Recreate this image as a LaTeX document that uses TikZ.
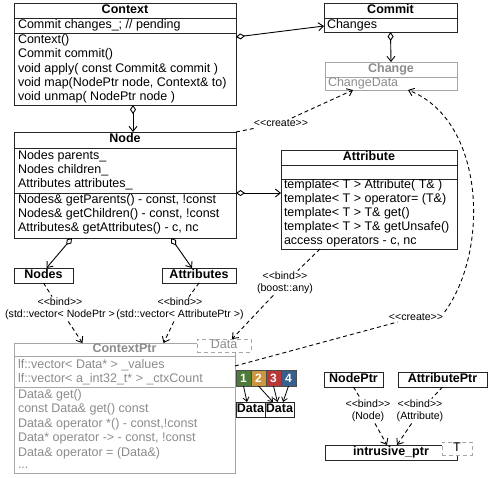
\documentclass[tikz,border=0pt]{standalone}
\usepackage{fontspec}
\setmainfont{Liberation Sans}[Ligatures=TeXOff]
\usetikzlibrary{arrows.meta}
\definecolor{tgreen}{RGB}{78,122,58}
\definecolor{torange}{RGB}{204,150,62}
\definecolor{tred}{RGB}{184,56,56}
\definecolor{tblue}{RGB}{56,96,142}
\begin{document}
\begin{tikzpicture}[x=1pt,y=-1pt,
  every node/.style={inner sep=0pt, outer sep=0pt},
  cls/.style 2 args={draw=black!85, line width=1pt, fill=white, anchor=north west,
    minimum width=#1, minimum height=#2},
  gcls/.style 2 args={cls={#1}{#2}, draw=black!35},
  tpl/.style 2 args={cls={#1}{#2}, draw=black!35, dash pattern=on 4pt off 3pt},
  mem/.style={anchor=mid west, font=\fontsize{12.5}{14}\selectfont},
  gmem/.style={mem, text=black!45},
  ttl/.style={anchor=mid, font=\fontsize{12.5}{14}\selectfont\bfseries},
  gttl/.style={ttl, text=black!45},
  lbl/.style={align=center, font=\fontsize{10.6}{12}\selectfont, inner sep=1.5pt},
  sepl/.style={draw=black!85, line width=1pt},
  gsep/.style={draw=black!35, line width=1pt},
  barb/.style={-{Straight Barb[length=5pt,width=8pt]}},
  agg/.style={line width=0.9pt, {Diamond[open,length=9pt,width=6pt]}-{Straight Barb[length=5pt,width=8pt]}},
  dep/.style={line width=0.9pt, dash pattern=on 4pt off 3pt},
  deparr/.style={dep, barb},
  sq/.style={draw=black!70, line width=0.6pt, anchor=north west, minimum width=15, minimum height=16,
    text=white, font=\fontsize{12}{14}\selectfont\bfseries},
  small/.style={line width=0.8pt, -{Straight Barb[length=4pt,width=6pt]}}
]
\useasboundingbox (0,0) rectangle (489,477);

% ---- Context
\node[cls={222}{102}] (context) at (14,3) {};
\draw[sepl] (14,18) -- (236,18);
\draw[sepl] (14,33) -- (236,33);
\node[ttl] (context-t) at (125,10.5) {Context};
\node[mem] (context-a1) at (18,25.5) {Commit changes\_; // pending};
\node[mem] (context-m1) at (18,41) {Context()};
\node[mem] (context-m2) at (18,55.2) {Commit commit()};
\node[mem] (context-m3) at (18,69.4) {void apply( const Commit\& commit )};
\node[mem] (context-m4) at (18,83.6) {void map(NodePtr node, Context\& to)};
\node[mem] (context-m5) at (18,97.8) {void unmap( NodePtr node )};

% ---- Commit
\node[cls={133}{29}] (commit) at (324,3) {};
\draw[sepl] (324,18) -- (457,18);
\node[ttl] (commit-t) at (390.5,10.5) {Commit};
\node[mem] (commit-a1) at (327,26) {Changes};

% ---- Change
\node[gcls={132}{28}] (change) at (325,62) {};
\draw[gsep] (325,77) -- (457,77);
\node[gttl] (change-t) at (391,69.5) {Change};
\node[gmem] (change-a1) at (328,84) {ChangeData};

% ---- Node
\node[cls={222}{106}] (node) at (14,132) {};
\draw[sepl] (14,148) -- (236,148);
\draw[sepl] (14,193) -- (236,193);
\node[ttl] (node-t) at (125,140) {Node};
\node[mem] (node-a1) at (18,157) {Nodes parents\_};
\node[mem] (node-a2) at (18,171) {Nodes children\_};
\node[mem] (node-a3) at (18,185) {Attributes attributes\_};
\node[mem] (node-m1) at (18,200.5) {Nodes\& getParents() - const, !const};
\node[mem] (node-m2) at (18,214.5) {Nodes\& getChildren() - const, !const};
\node[mem] (node-m3) at (18,228.5) {Attributes\& getAttributes() - c, nc};

% ---- Attribute
\node[cls={176}{99}] (attribute) at (281,150) {};
\draw[sepl] (281,165) -- (457,165);
\draw[sepl] (281,179) -- (457,179);
\node[ttl] (attribute-t) at (369,157.5) {Attribute};
\node[mem] (attribute-m1) at (284,186) {template< T > Attribute( T\& )};
\node[mem] (attribute-m2) at (284,200) {template< T > operator= (T\&)};
\node[mem] (attribute-m3) at (284,214) {template< T > T\& get()};
\node[mem] (attribute-m4) at (284,228) {template< T > T\& getUnsafe()};
\node[mem] (attribute-m5) at (284,242) {access operators - c, nc};

% ---- Nodes / Attributes
\node[cls={59}{15}] (nodes) at (14,268) {};
\node[ttl] (nodes-t) at (43.5,275.5) {Nodes};
\node[cls={74}{15}] (attributes) at (162,268) {};
\node[ttl] (attributes-t) at (199,275.5) {Attributes};

% ---- ContextPtr
\node[gcls={221}{130}] (ctxptr) at (14,343) {};
\draw[gsep] (14,356) -- (235,356);
\draw[gsep] (14,387) -- (235,387);
\node[gttl] (ctxptr-t) at (124.5,350) {ContextPtr};
\node[gmem] (ctxptr-a1) at (18,365.5) {lf::vector< Data* > \_values};
\node[gmem] (ctxptr-a2) at (18,379.5) {lf::vector< a\_int32\_t* > \_ctxCount};
\node[gmem] (ctxptr-m1) at (18,395.5) {Data\& get()};
\node[gmem] (ctxptr-m2) at (18,410) {const Data\& get() const};
\node[gmem] (ctxptr-m3) at (18,424.5) {Data\& operator *() - const,!const};
\node[gmem] (ctxptr-m4) at (18,439) {Data* operator -> - const, !const};
\node[gmem] (ctxptr-m5) at (18,453.5) {Data\& operator = (Data\&)};
\node[gmem] (ctxptr-m6) at (18,466) {...};
\node[tpl={54}{13}] (datatpl) at (197,339) {};
\node[gmem, anchor=mid] (datatpl-t) at (224,345.5) {Data};

% ---- tagged data slots
\node[sq, fill=tgreen] (sq1) at (236,370) {1};
\node[sq, fill=torange] (sq2) at (251,370) {2};
\node[sq, fill=tred] (sq3) at (266,370) {3};
\node[sq, fill=tblue] (sq4) at (281,370) {4};
\node[cls={29}{15}] (data1) at (236,402) {};
\node[ttl] (data1-t) at (250.5,409.5) {Data};
\node[cls={29}{15}] (data2) at (265,402) {};
\node[ttl] (data2-t) at (279.5,409.5) {Data};

% ---- smart pointers
\node[cls={59}{15}] (nodeptr) at (324,372) {};
\node[ttl] (nodeptr-t) at (353.5,379.5) {NodePtr};
\node[cls={89}{15}] (attrptr) at (398,372) {};
\node[ttl] (attrptr-t) at (442.5,379.5) {AttributePtr};
\node[cls={132}{15}] (intrusive) at (325,445) {};
\node[ttl] (intrusive-t) at (391,453) {intrusive\_ptr};
\node[tpl={30}{13}] (ttpl) at (442,442) {};
\node[mem, anchor=mid] (ttpl-t) at (457,448.5) {T};

% ---- aggregations
\draw[agg] ([yshift=17pt]context.east) -- ([yshift=-8.5pt]commit.west);
\draw[agg] ([xshift=8pt]context.south) -- ([xshift=8pt]node.north);
\draw[agg] (commit.south) -- (change.north);
\draw[agg] ([yshift=-8pt]node.east) -- ([yshift=6.5pt]attribute.west);
\draw[agg] ([xshift=-53pt]node.south) -- ([xshift=3pt]nodes.north);
\draw[agg] ([xshift=46pt]node.south) -- ([xshift=-7pt]attributes.north);

% ---- bindings
\node[lbl] (bind1) at (60,309) {<<bind>>\\(std::vector< NodePtr >};
\draw[dep] (nodes.south) -- (bind1);
\draw[deparr] (bind1) -- ([xshift=-42pt]ctxptr.north);
\node[lbl] (bind2) at (180,309) {<<bind>>\\(std::vector< AttributePtr >)};
\draw[dep] (attributes.south) -- (bind2);
\draw[deparr] (bind2) -- ([xshift=39pt]ctxptr.north);
\node[lbl] (bind3) at (285,283) {<<bind>>\\(boost::any)};
\draw[dep] ([xshift=-49pt]attribute.south) -- (bind3);
\draw[deparr] (bind3) -- ([xshift=8pt]datatpl.north);
\node[lbl] (bind4) at (368,411) {<<bind>>\\(Node)};
\draw[dep] (nodeptr.south) -- (bind4);
\draw[deparr] (bind4) -- ([xshift=-4pt]intrusive.north);
\node[lbl] (bind5) at (420,411) {<<bind>>\\(Attribute)};
\draw[dep] (attrptr.south) -- (bind5);
\draw[deparr] (bind5) -- ([xshift=6pt]intrusive.north);

% ---- creation dependencies
\node[lbl] (create1) at (281,123) {<<create>>};
\draw[dep] (node.north east) -- (create1);
\draw[deparr] (create1) -- ([xshift=-38pt]change.south);
\node[lbl] (create2) at (416,317) {<<create>>};
\draw[dep] ([yshift=42pt]ctxptr.east) -- (create2);
\draw[deparr] (create2.north east) .. controls (490,250) and (485,120) .. ([xshift=17pt]change.south);

% ---- slot arrows
\draw[small] (sq1.south) -- ([xshift=-3.5pt]data1.north);
\draw[small] (sq2.south) -- ([xshift=-6.5pt]data2.north);
\draw[small] (sq3.south) -- ([xshift=-2pt]data2.north);
\draw[small] (sq4.south) -- ([xshift=3.5pt]data2.north);
\end{tikzpicture}
\end{document}
